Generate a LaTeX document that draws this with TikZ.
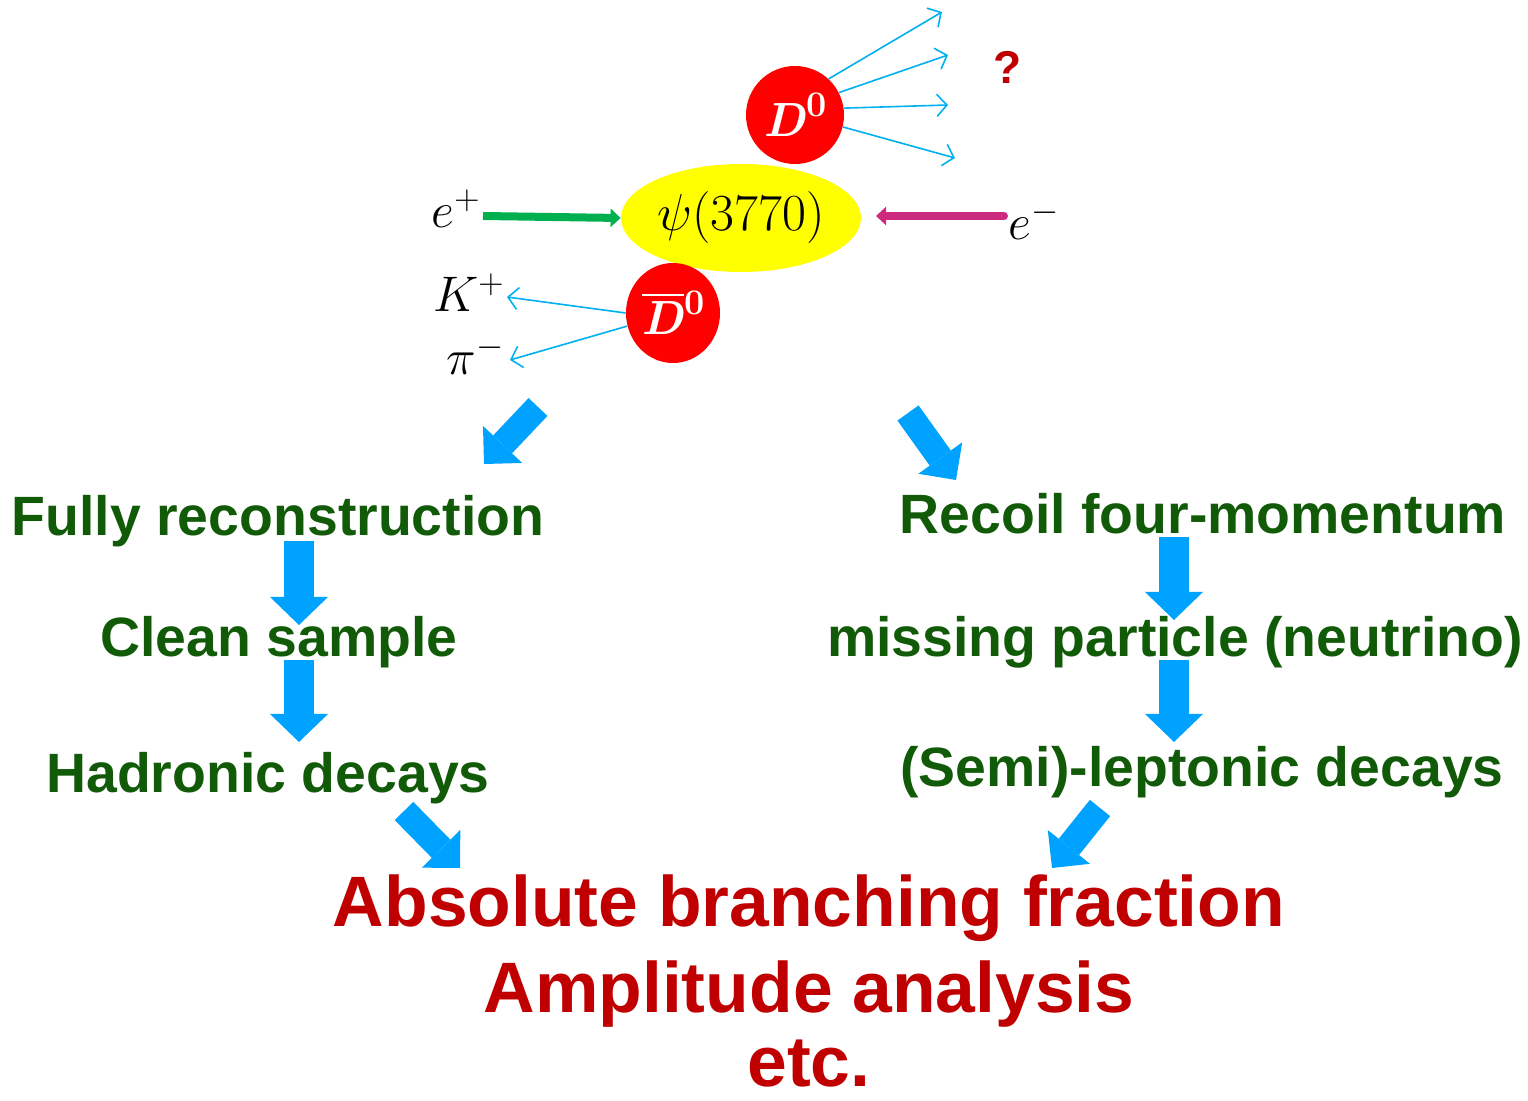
\RequirePackage{fix-cm}
\documentclass[tikz,border=0pt]{standalone}
\usepackage{fontspec}
\usepackage{amsmath}
\usetikzlibrary{arrows.meta, positioning, shapes.geometric, calc}
\newfontfamily\helv{Liberation Sans}
\definecolor{dcGreen}{HTML}{115A08}
\definecolor{dcRed}{HTML}{C00000}
\definecolor{dcBlue}{HTML}{00A2FF}
\definecolor{dcThin}{HTML}{00B0F0}
\definecolor{dcPos}{HTML}{00B050}
\definecolor{dcNeg}{HTML}{CC2C7E}
\definecolor{dcYellow}{HTML}{FFFF00}
\definecolor{dcBall}{HTML}{FF0000}
\tikzset{
  steptext/.style={font=\helv\fontsize{27.7}{30}\selectfont\bfseries, text=dcGreen, anchor=base, inner sep=0pt},
  result/.style={font=\helv\fontsize{35.7}{38}\selectfont\bfseries, text=dcRed, anchor=base, inner sep=0pt},
  meson/.style={circle, fill=dcBall, minimum size=49pt, inner sep=0pt, text=white, font=\fontsize{24}{26}\selectfont},
  particle/.style={font=\fontsize{25}{27}\selectfont, inner sep=0pt},
  decay/.style={-{Straight Barb[length=5pt,width=11pt]}, dcThin, line width=0.8pt},
  beampos/.style={-{Triangle[length=5pt,width=9pt]}, dcPos, line width=4pt},
  beamneg/.style={-{Triangle[length=5pt,width=9pt]}, dcNeg, line width=4pt, line cap=round},
  bigarrow/.style={dcBlue, line width=15pt, -{Triangle[length=14pt,width=29pt,line width=0pt]}},
  diagarrow/.style={dcBlue, line width=13pt, -{Triangle[length=13.5pt,width=27pt,line width=0pt]}}
}
\newcommand{\mesonzero}{\raisebox{0.42em}{\fontsize{18}{18}\selectfont\bfseries\upshape 0}}

\begin{document}
\begin{tikzpicture}[x=0.5pt, y=-0.5pt]
  \useasboundingbox (0,0) rectangle (1528,1101);

  % collision
  \node[ellipse, fill=dcYellow, minimum width=120pt, minimum height=54pt, inner sep=0pt,
        font=\fontsize{26}{28}\selectfont] (psi) at (741,218) {\raisebox{-3pt}{$\psi(3770)$}};
  \node[meson] (dz) at (795,115) {\textbf{\textit{D}}\mesonzero};
  \node[meson, ellipse, minimum width=47pt, minimum height=50pt] (dzb) at (673,313)
       {$\overline{\textbf{\textit{D}}}$\mesonzero};

  \node[particle, anchor=base east] (ep) at (481,228) {$e^{+}$};
  \node[particle, anchor=base west] (em) at (1008,240) {$e^{-}$};
  \node[particle, anchor=base east] (kp) at (505,312) {$K^{+}$};
  \node[particle, anchor=base east] (pim) at (505,375) {$\pi^{-}$};
  \node[font=\helv\fontsize{23}{25}\selectfont\bfseries, text=dcRed, anchor=base] (unk) at (1008,84) {?};

  \draw[beampos] (483,216) -- (psi.west);
  \draw[beamneg] (1004,216) -- (876,216);

  % D0 -> unknown
  \coordinate (u1) at (942,12);
  \coordinate (u2) at (948,55);
  \coordinate (u3) at (948,105);
  \coordinate (u4) at (955,158);
  \draw[decay] (dz.47) -- (u1);
  \draw[decay] (dz.27) -- (u2);
  \draw[decay] (dz.8) -- (u3);
  \draw[decay] (dz.-14) -- (u4);

  % Dbar0 -> K pi
  \draw[decay] (dzb.180) -- (507,297);
  \draw[decay] (dzb.196) -- (510,360);

  % two branches
  \node[steptext] (fully) at (278,536) {Fully reconstruction};
  \node[steptext] (clean) at (279,657) {Clean sample};
  \node[steptext] (hadr) at (268,792) {Hadronic decays};
  \node[steptext] (recoil) at (1203,534) {Recoil four-momentum};
  \node[steptext] (miss) at (1175,657) {missing particle (neutrino)};
  \node[steptext] (semi) at (1202,787) {(Semi)-leptonic decays};

  \node[result] (abs) at (809,926) {Absolute branching fraction};
  \node[result] (ampl) at (809,1012) {Amplitude analysis};
  \node[result] (etc) at (809,1086) {etc.};

  \draw[diagarrow] (538,407) -- (484,464);
  \draw[diagarrow] (908,413) -- (956,480);
  \draw[bigarrow] (299,541) -- (299,625);
  \draw[bigarrow] (299,660) -- (299,742);
  \draw[bigarrow] (1174,537) -- (1174,620);
  \draw[bigarrow] (1174,660) -- (1174,742);
  \draw[diagarrow] (404,811) -- (460,868);
  \draw[diagarrow] (1100,808) -- (1052,868);
\end{tikzpicture}
\end{document}
